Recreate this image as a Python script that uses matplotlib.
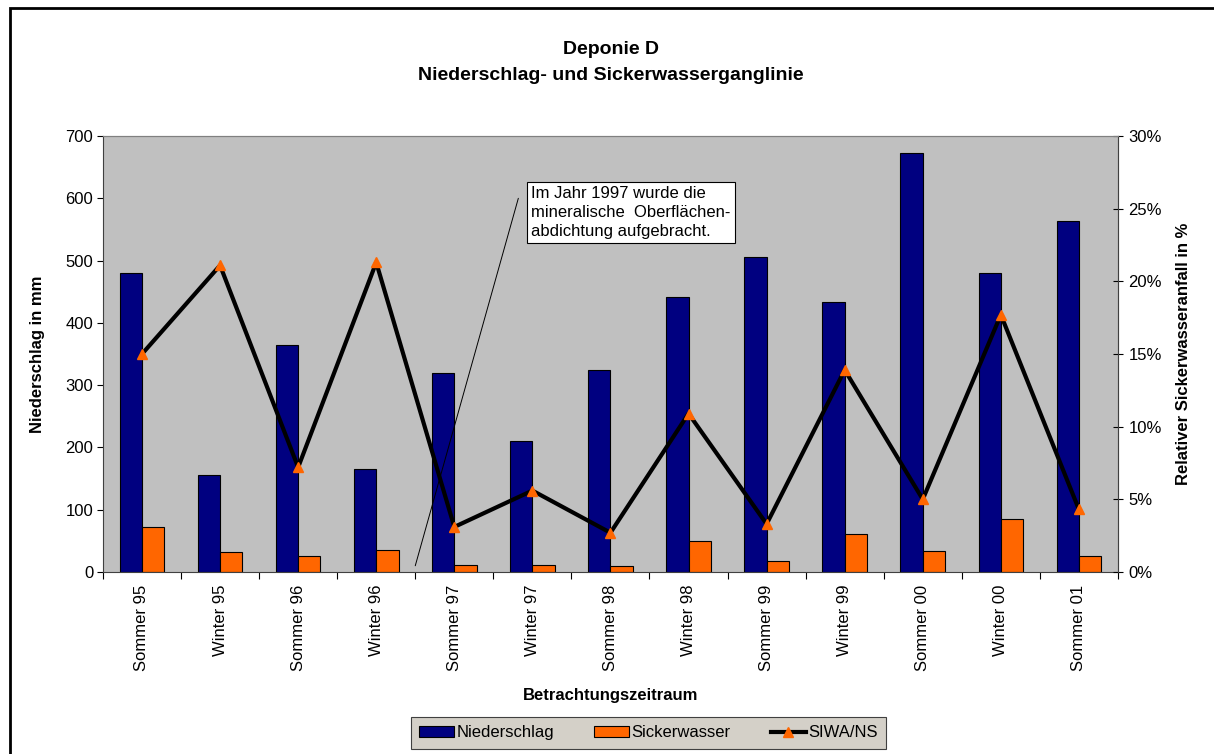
import matplotlib
matplotlib.use("Agg")
import matplotlib.pyplot as plt
import numpy as np
from matplotlib.patches import Rectangle, Patch
from matplotlib.lines import Line2D
from matplotlib.ticker import FuncFormatter, FixedLocator

plt.rcParams['font.family'] = ['Liberation Sans', 'DejaVu Sans']

# Zeitraeume (Halbjahre)
zeitraum = ['Sommer 95', 'Winter 95', 'Sommer 96', 'Winter 96', 'Sommer 97',
            'Winter 97', 'Sommer 98', 'Winter 98', 'Sommer 99', 'Winter 99',
            'Sommer 00', 'Winter 00', 'Sommer 01']

# Niederschlag und Sickerwasser in mm
niederschlag = [480, 155, 364, 165, 319, 211, 325, 442, 505, 434, 673, 480, 563]
sickerwasser = [73, 32, 26, 35, 11, 11, 9, 49, 17, 61, 34, 85, 25]

# Verhaeltnis Sickerwasser / Niederschlag
siwa_ns = [0.150, 0.211, 0.072, 0.213, 0.031, 0.056, 0.027, 0.109, 0.033,
           0.139, 0.050, 0.177, 0.043]

NAVY = '#000080'
ORANGE = '#ff6600'
FS = 12

fig = plt.figure(figsize=(12.14, 7.54), dpi=100)
ax = fig.add_axes([0.0848, 0.2414, 0.8361, 0.5782])
ax.set_facecolor('#c0c0c0')

x = np.arange(len(zeitraum))
w = 1 / 3.5
ax.bar(x - w / 2, niederschlag, width=w, color=NAVY, edgecolor='black',
       linewidth=0.8, zorder=2, label='Niederschlag')
ax.bar(x + w / 2, sickerwasser, width=w, color=ORANGE, edgecolor='black',
       linewidth=0.8, zorder=2, label='Sickerwasser')

ax.set_xlim(-0.5, len(zeitraum) - 0.5)
ax.set_ylim(0, 700)
ax.set_yticks(np.arange(0, 701, 100))
ax.tick_params(axis='y', direction='out', length=4, labelsize=FS, pad=3)

# Ticks an den Kategoriegrenzen, Beschriftung in der Mitte
ax.xaxis.set_major_locator(FixedLocator(np.arange(-0.5, len(zeitraum), 1)))
ax.xaxis.set_major_formatter(FuncFormatter(lambda v, p: ''))
ax.xaxis.set_minor_locator(FixedLocator(x))
ax.set_xticklabels(zeitraum, minor=True, rotation=90, fontsize=FS)
ax.tick_params(axis='x', which='major', direction='out', length=5)
ax.tick_params(axis='x', which='minor', length=0, pad=9)

for s in ['top', 'right']:
    ax.spines[s].set_color('#808080')
ax.spines['left'].set_color('#404040')
ax.spines['bottom'].set_color('#404040')

ax.set_ylabel('Niederschlag in mm', fontsize=FS, fontweight='bold')
ax.yaxis.set_label_coords(-0.057, 0.5)
ax.set_xlabel('Betrachtungszeitraum', fontsize=FS, fontweight='bold')
ax.xaxis.set_label_coords(0.5, -0.266)

# Sekundaerachse fuer den relativen Sickerwasseranfall
ax2 = ax.twinx()
ax2.plot(x, siwa_ns, color='black', linewidth=3, marker='^', markersize=7.5,
         markerfacecolor=ORANGE, markeredgecolor=ORANGE, zorder=3,
         label='SIWA/NS')
ax2.set_ylim(0, 0.30)
ax2.set_yticks(np.arange(0, 0.301, 0.05))
ax2.yaxis.set_major_formatter(FuncFormatter(lambda v, p: f'{v * 100:.0f}%'))
ax2.tick_params(axis='y', direction='inout', length=7, labelsize=FS, pad=4)
ax2.spines['right'].set_color('#404040')
ax2.spines['top'].set_color('#808080')
ax2.spines['left'].set_visible(False)
ax2.spines['bottom'].set_visible(False)
ax2.set_ylabel('Relativer Sickerwasseranfall in %', fontsize=FS,
               fontweight='bold')
ax2.yaxis.set_label_coords(1.057, 0.5)

# Hinweis zur Oberflaechenabdichtung
ax.annotate('', xy=(3.5, 10), xytext=(4.82, 600),
            arrowprops=dict(arrowstyle='-', color='black', lw=0.7,
                            shrinkA=0, shrinkB=0), zorder=4)
ax.text(4.985, 619, 'Im Jahr 1997 wurde die\nmineralische  Oberflächen-\n'
        'abdichtung aufgebracht.', fontsize=FS, ha='left', va='top',
        linespacing=1.3, zorder=5,
        bbox=dict(boxstyle='square,pad=0.25', facecolor='white',
                  edgecolor='black', linewidth=0.8))

fig.text(0.503, 0.935, 'Deponie D', ha='center', va='center',
         fontsize=14, fontweight='bold')
fig.text(0.503, 0.9005, 'Niederschlag- und Sickerwasserganglinie',
         ha='center', va='center', fontsize=14, fontweight='bold')

handles = [Patch(facecolor=NAVY, edgecolor='black', linewidth=0.8),
           Patch(facecolor=ORANGE, edgecolor='black', linewidth=0.8),
           Line2D([], [], color='black', linewidth=3, marker='^',
                  markersize=7.5, markerfacecolor=ORANGE,
                  markeredgecolor=ORANGE)]
leg = fig.legend(handles, ['Niederschlag', 'Sickerwasser', 'SIWA/NS'],
                 loc='center', bbox_to_anchor=(0.534, 0.028), ncol=3,
                 fontsize=FS, frameon=True, fancybox=False,
                 facecolor='#d4d0c8', edgecolor='#404040', framealpha=1,
                 handlelength=2.1, handleheight=0.6, handletextpad=0.15,
                 columnspacing=2.4, borderpad=0.5, borderaxespad=0.3)
leg.get_frame().set_linewidth(0.8)

# Rahmen des Diagrammbereichs
fig.add_artist(Rectangle((10 / 1214, -0.1), 1.2, 0.1 + 1 - 8 / 754,
                         transform=fig.transFigure, fill=False,
                         edgecolor='black', linewidth=2, clip_on=False))

fig.savefig('out.png', dpi=100, facecolor='white')
